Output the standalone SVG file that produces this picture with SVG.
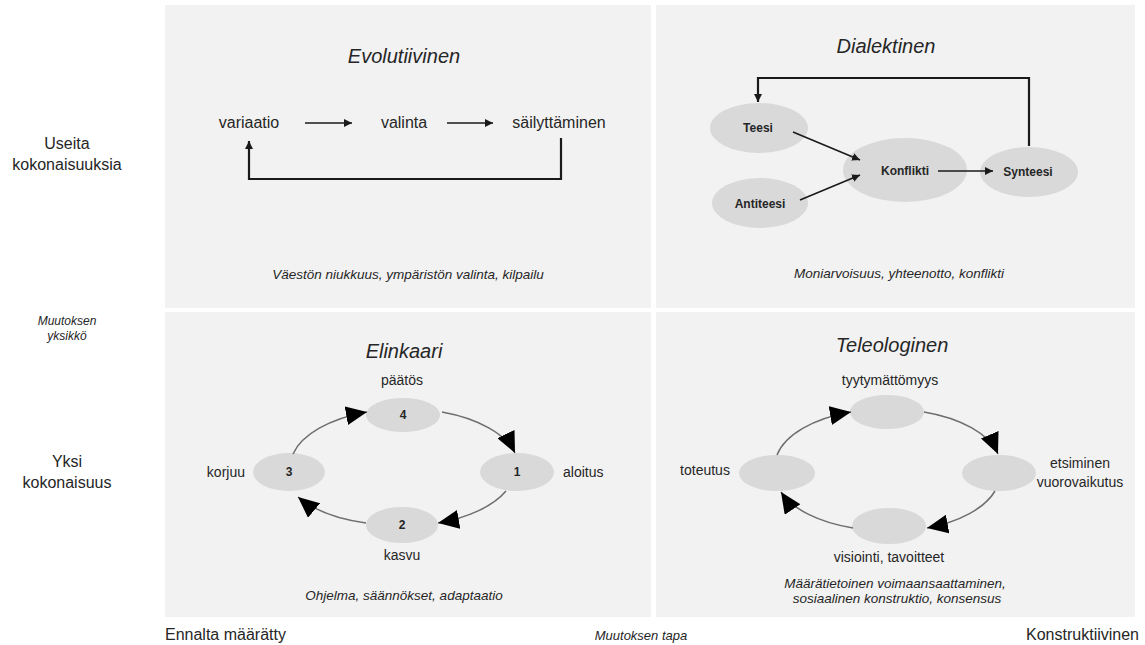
<svg xmlns="http://www.w3.org/2000/svg" width="1145" height="645" viewBox="0 0 1145 645">
<style>
text{font-family:"Liberation Sans",Arial,sans-serif;fill:#262626}
.panel{fill:#f2f2f2}
.title{font-size:20px;font-style:italic;text-anchor:middle}
.lbl{font-size:14px}
.mid{text-anchor:middle}
.cap{font-size:13.5px;font-style:italic;text-anchor:middle}
.big{font-size:16px}
.bold{font-size:12px;font-weight:bold;text-anchor:middle}
.ell{fill:#d9d9d9}
.blk{fill:none;stroke:#1a1a1a;stroke-width:1.6}
.blk2{fill:none;stroke:#1a1a1a;stroke-width:2.2}
.arc{fill:none;stroke:#6e6e6e;stroke-width:1.5}
</style>
<defs>
<marker id="sm" markerUnits="userSpaceOnUse" markerWidth="9" markerHeight="8" refX="8" refY="4" orient="auto"><path d="M0,0 L8,4 L0,8 z" fill="#1a1a1a"/></marker>
<marker id="bg" markerUnits="userSpaceOnUse" markerWidth="22" markerHeight="19" refX="21" refY="9.5" orient="auto"><path d="M0,0 L21,9.5 L0,19 z" fill="#000"/></marker>
</defs>
<rect width="1145" height="645" fill="#ffffff"/>
<g id="panels">
<rect class="panel" x="165" y="5" width="486" height="303"/>
<rect class="panel" x="656" y="5" width="479" height="303"/>
<rect class="panel" x="165" y="312" width="486" height="305"/>
<rect class="panel" x="656" y="312" width="479" height="305"/>
</g>
<g id="axis-labels">
<text class="big mid" x="67" y="149">Useita</text>
<text class="big mid" x="67" y="170">kokonaisuuksia</text>
<text class="mid" x="67" y="325" style="font-size:12px;font-style:italic">Muutoksen</text>
<text class="mid" x="67" y="340" style="font-size:12px;font-style:italic">yksikkö</text>
<text class="big mid" x="67" y="467">Yksi</text>
<text class="big mid" x="67" y="488">kokonaisuus</text>
<text class="big" x="165" y="640">Ennalta määrätty</text>
<text class="mid" x="641" y="640" style="font-size:13px;font-style:italic">Muutoksen tapa</text>
<text class="big" x="1139" y="640" text-anchor="end">Konstruktiivinen</text>
</g>
<g id="evolutiivinen">
<text class="title" x="404" y="63">Evolutiivinen</text>
<text class="cap" x="408" y="279">Väestön niukkuus, ympäristön valinta, kilpailu</text>
</g>
<g id="n-variaatio"><text class="big mid" x="249" y="128">variaatio</text></g>
<g id="n-valinta"><text class="big mid" x="404" y="128">valinta</text></g>
<g id="n-sailyttaminen"><text class="big mid" x="559" y="128">säilyttäminen</text></g>
<g id="dialektinen">
<text class="title" x="886" y="53">Dialektinen</text>
<text class="cap" x="899" y="278">Moniarvoisuus, yhteenotto, konflikti</text>
</g>
<g id="n-teesi"><ellipse class="ell" cx="759" cy="128" rx="49" ry="25"/><text class="bold" x="758" y="132">Teesi</text></g>
<g id="n-antiteesi"><ellipse class="ell" cx="760" cy="203" rx="48" ry="25"/><text class="bold" x="760" y="208">Antiteesi</text></g>
<g id="n-konflikti"><ellipse class="ell" cx="905" cy="170" rx="62" ry="32"/><text class="bold" x="905" y="175">Konflikti</text></g>
<g id="n-synteesi"><ellipse class="ell" cx="1029" cy="172" rx="49" ry="25"/><text class="bold" x="1028" y="176">Synteesi</text></g>
<g id="elinkaari">
<text class="title" x="404" y="358">Elinkaari</text>
<text class="cap" x="404" y="600">Ohjelma, säännökset, adaptaatio</text>
</g>
<g id="n-4"><ellipse class="ell" cx="403" cy="415" rx="37" ry="17"/><text class="bold" x="403" y="419">4</text><text class="lbl mid" x="402" y="385">päätös</text></g>
<g id="n-1"><ellipse class="ell" cx="517" cy="472" rx="37" ry="19"/><text class="bold" x="517" y="476">1</text><text class="lbl" x="563" y="477">aloitus</text></g>
<g id="n-3"><ellipse class="ell" cx="289" cy="472" rx="36" ry="19"/><text class="bold" x="289" y="476">3</text><text class="lbl" x="245" y="477" text-anchor="end">korjuu</text></g>
<g id="n-2"><ellipse class="ell" cx="402" cy="525" rx="36" ry="18"/><text class="bold" x="402" y="529">2</text><text class="lbl mid" x="402" y="560">kasvu</text></g>
<g id="teleologinen">
<text class="title" x="892" y="352">Teleologinen</text>
<text class="cap" x="895" y="588">Määrätietoinen voimaansaattaminen,</text>
<text class="cap" x="897" y="603">sosiaalinen konstruktio,  konsensus</text>
</g>
<g id="t-top"><ellipse class="ell" cx="887" cy="412" rx="37" ry="17"/><text class="lbl mid" x="890" y="385">tyytymättömyys</text></g>
<g id="t-right"><ellipse class="ell" cx="999" cy="473" rx="37" ry="18"/><text class="lbl mid" x="1080" y="468">etsiminen</text><text class="lbl mid" x="1080" y="487">vuorovaikutus</text></g>
<g id="t-bottom"><ellipse class="ell" cx="889" cy="526" rx="37" ry="18"/><text class="lbl mid" x="889" y="562">visiointi, tavoitteet</text></g>
<g id="t-left"><ellipse class="ell" cx="777" cy="473" rx="38" ry="18"/><text class="lbl mid" x="705" y="475">toteutus</text></g>
<g id="connectors">
<line class="blk" x1="305" y1="123" x2="352" y2="123" marker-end="url(#sm)"/>
<line class="blk" x1="447" y1="123" x2="493" y2="123" marker-end="url(#sm)"/>
<path class="blk2" d="M561,138 V179 H249 V141" marker-end="url(#sm)"/>
<line class="blk" x1="793" y1="132" x2="860" y2="160" marker-end="url(#sm)"/>
<line class="blk" x1="800" y1="200" x2="860" y2="175" marker-end="url(#sm)"/>
<line class="blk" x1="938" y1="171" x2="993" y2="171" marker-end="url(#sm)"/>
<path class="blk2" d="M1029,146 V78 H758 V102" marker-end="url(#sm)"/>
<path class="arc" d="M293,454 A115 58 0 0 1 367,412" marker-end="url(#bg)"/>
<path class="arc" d="M442,412 A115 58 0 0 1 515,453" marker-end="url(#bg)"/>
<path class="arc" d="M506,491 A115 58 0 0 1 438,523" marker-end="url(#bg)"/>
<path class="arc" d="M366,523 A115 58 0 0 1 298,497" marker-end="url(#bg)"/>
<path class="arc" d="M777,455 A111 57 0 0 1 851,412" marker-end="url(#bg)"/>
<path class="arc" d="M924,412 A111 57 0 0 1 998,454" marker-end="url(#bg)"/>
<path class="arc" d="M995,491 A111 57 0 0 1 927,528" marker-end="url(#bg)"/>
<path class="arc" d="M853,528 A111 57 0 0 1 781,492" marker-end="url(#bg)"/>
</g>
</svg>
